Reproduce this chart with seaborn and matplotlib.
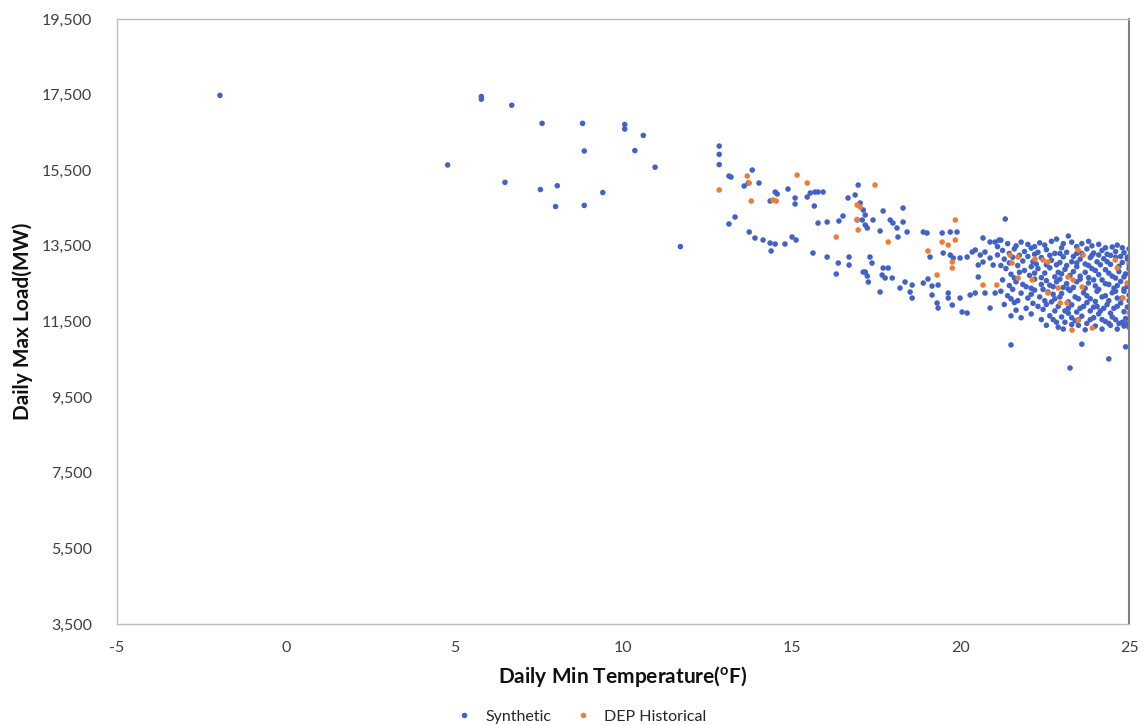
import numpy as np
import pandas as pd
import matplotlib
matplotlib.use("Agg")
import matplotlib.pyplot as plt
import seaborn as sns
from matplotlib.ticker import FuncFormatter

# ---------------- data ----------------
syn_temp = [
    -1.95, 4.8, 5.8, 5.8, 6.7, 6.5, 7.6, 7.55, 8.05, 8.0, 8.8, 8.85, 8.85, 9.4, 10.05, 10.05, 10.35, 10.6, 10.95, 11.7,
    12.85, 12.85, 12.85, 13.14, 13.2, 13.83, 13.59, 13.71, 14.03, 13.32, 13.14, 13.74, 13.91, 14.15, 14.36, 14.51,
    14.39, 14.8, 15.01, 15.13, 15.63, 16.05, 16.38, 16.7, 16.7, 16.32, 14.51, 14.57, 14.36, 14.89, 15.1, 15.1, 15.55,
    15.69, 15.78, 15.93, 15.46, 15.67, 15.78, 16.05, 16.4, 16.52, 16.97, 16.67, 16.88, 17.03, 17.12, 17.18, 17.09,
    16.94, 17.18, 17.12, 17.24,
    17.71, 18.30, 17.24, 17.41, 17.62, 17.92, 18.0, 18.12, 18.3, 18.42, 18.15, 18.9, 19.01, 19.46, 19.7, 19.9, 19.1,
    19.49, 19.7, 19.79, 19.99, 20.2, 20.35, 17.32, 17.38, 17.18, 17.27, 17.71, 17.86, 17.68, 17.77, 17.98, 17.62,
    18.21, 18.36, 18.57, 18.51, 18.57, 18.9, 19.04, 19.16, 19.34, 19.16, 19.31, 19.34, 19.64, 19.64, 19.76, 19.99,
    20.05, 20.2, 20.29, 20.44, 20.53, 20.73, 20.88, 21.03, 20.44, 20.59, 20.73, 20.88, 20.67, 20.97, 20.53, 20.67,
    20.88, 21.03, 21.15,
    21.2, 21.4, 21.8, 22.0, 22.35, 22.7, 22.85, 23.2, 23.3, 23.6, 23.9, 24.1, 24.5, 24.8, 25.0,
    21.25, 21.6, 21.9, 22.1, 22.3, 22.55, 22.8, 23.0, 23.15, 23.45, 23.75, 23.95, 24.2, 24.35, 24.6, 24.85, 24.95,
    21.3, 21.55, 21.85, 22.0, 22.25, 22.4, 22.7, 22.85, 23.05, 23.3, 23.55, 23.7, 23.85, 24.05, 24.25, 24.45, 24.6,
    24.8, 24.95, 21.7,
    21.35, 21.5, 21.9, 22.05, 22.3, 22.5, 22.65, 22.9, 23.1, 23.25, 23.45, 23.7, 23.9, 24.1, 24.3, 24.5, 24.7, 24.9,
    25.0, 22.1,
    21.25, 21.45, 21.65, 21.95, 22.2, 22.4, 22.55, 22.75, 22.95, 23.15, 23.35, 23.55, 23.8, 24.0, 24.2, 24.4, 24.55,
    24.75, 24.95, 23.05,
    21.2, 21.4, 21.8, 22.0, 22.2, 22.35, 22.6, 22.8, 23.0, 23.25, 23.4, 23.65, 23.85, 24.05, 24.3, 24.5, 24.65, 24.85,
    25.0,
    21.3, 21.6, 21.95, 22.15, 22.45, 22.7, 22.9, 23.1, 23.3, 23.55, 23.75, 23.95, 24.15, 24.35, 24.55, 24.75, 24.95,
    21.5, 21.8, 22.1, 22.4, 22.65, 22.85, 23.0, 23.2, 23.4, 23.6, 23.85, 24.1, 24.3, 24.5, 24.7, 24.9,
    22.9, 23.05, 23.3, 23.7, 24.0, 24.2, 24.45, 24.65, 24.85, 25.0, 23.5,
    21.5, 23.25, 23.6, 24.4, 24.9, 21.33,
]
syn_load = [
    17480, 15640, 17450, 17380, 17220, 15180, 16740, 14990, 15090, 14540, 16740, 16010, 14570, 14910, 16710, 16590,
    16020, 16420, 15580, 13480,
    16140, 15920, 15650, 15347, 15320, 15506, 15083, 15162, 15162, 14263, 14078, 13866, 13707, 13655, 13575, 13549,
    13364, 13549, 13734, 13655, 13311, 13205, 13046, 13205, 12993, 12755, 14924, 14871, 14686, 15003, 14766, 14607,
    14898, 14924, 14924, 14924, 14792, 14554, 14104, 14130, 14157, 14290, 15109, 14766, 14845, 14633, 14448, 14316,
    14184, 14184, 14051, 12808, 12702,
    14422, 14501, 13972, 14184, 13893, 14184, 14104, 13972, 14130, 13866, 13734, 13866, 13840, 13840, 13866, 13866,
    13205, 13311, 13258, 13179, 13179, 13205, 13337, 13205, 13046, 12808, 12544, 12914, 12914, 12729, 12650, 12650,
    12279, 12385, 12544, 12464, 12279, 12120, 12517, 12623, 12438, 12464, 12200, 11988, 11856, 12253, 12120, 11935,
    12120, 11750, 11724, 12200, 12253, 12676, 12253, 11856, 12253, 13390, 13258, 13337, 13179, 13073, 12993, 12993,
    13708, 13602, 13602, 13655,
    13650, 13560, 13600, 13540, 13580, 13620, 13680, 13760, 13600, 13560, 13500, 13540, 13470, 13450, 13420,
    13380, 13420, 13350, 13440, 13330, 13400, 13300, 13450, 13330, 13300, 13420, 13310, 13380, 13280, 13350, 13320,
    13200,
    13150, 13200, 13100, 13220, 13020, 13190, 13120, 13000, 13210, 13080, 13150, 13020, 13190, 13080, 13160, 13010,
    13200, 13060, 13150, 12980,
    12900, 12750, 12850, 12720, 12900, 12780, 12920, 12800, 12880, 12720, 12950, 12800, 12900, 12740, 12870, 12700,
    12820, 12760, 12900, 12950,
    12600, 12450, 12550, 12420, 12620, 12480, 12580, 12420, 12620, 12500, 12400, 12620, 12520, 12440, 12600, 12480,
    12380, 12560, 12430, 12400,
    12300, 12180, 12250, 12120, 12330, 12150, 12280, 12100, 12240, 12320, 12150, 12260, 12100, 12300, 12180, 12260,
    12120, 12300, 12200,
    11950, 12000, 11850, 11980, 11820, 12020, 11900, 11780, 11940, 11850, 12000, 11880, 11780, 11950, 11850, 11990,
    11880,
    11650, 11600, 11700, 11550, 11650, 11480, 11620, 11720, 11520, 11640, 11550, 11700, 11500, 11620, 11450, 11580,
    11350, 11300, 11420, 11280, 11380, 11300, 11400, 11300, 11380, 11350, 11400,
    10880, 10270, 10900, 10510, 10830, 14210,
]

# extra synthetic points filling the dense 21-25 °F cluster
syn_temp_dense = [
    21.1, 21.65, 22.2, 22.5, 23.05, 23.45, 23.8, 24.3, 24.65,
    21.1, 21.45, 21.75, 22.2, 22.65, 22.95, 23.35, 23.6, 23.9, 24.1, 24.45, 24.75,
    21.2, 21.45, 22.15, 22.55, 22.95, 23.15, 23.45, 23.8, 24.15, 24.35, 24.7, 25.0,
    21.6, 21.75, 22.2, 22.4, 22.8, 23.0, 23.35, 23.55, 23.8, 24.0, 24.4, 24.6, 24.85,
    21.55, 21.85, 22.1, 22.45, 22.65, 22.85, 23.2, 23.45, 23.7, 23.95, 24.1, 24.3, 24.65, 24.85,
    21.5, 21.7, 22.1, 22.5, 22.75, 22.95, 23.2, 23.5, 23.75, 24.0, 24.2, 24.4, 24.6, 24.8, 25.0,
    21.65, 22.3, 22.55, 22.8, 23.2, 23.45, 23.65, 23.85, 24.05, 24.25, 24.45, 24.65, 24.85,
    22.55, 22.75, 23.1, 23.3, 23.5, 23.75, 23.95, 24.2, 24.4, 24.6, 24.8, 24.95,
]
syn_load_dense = [
    13480, 13500, 13480, 13520, 13560, 13480, 13620, 13450, 13520,
    13260, 13300, 13250, 13280, 13250, 13300, 13220, 13300, 13250, 13260, 13250, 13220,
    12980, 13050, 13080, 13000, 13060, 12980, 13050, 12980, 13000, 13080, 12960, 13000,
    12650, 12800, 12780, 12660, 12680, 12760, 12820, 12700, 12660, 12850, 12780, 12650, 12680,
    12350, 12480, 12380, 12350, 12460, 12550, 12360, 12550, 12380, 12600, 12350, 12500, 12450, 12360,
    12100, 12050, 12220, 12050, 12220, 12150, 12020, 12100, 12180, 12030, 12150, 12050, 12300, 12120, 12050,
    11800, 11900, 11950, 11780, 11850, 11750, 11900, 11780, 11900, 11850, 11720, 11900, 11760,
    11400, 11550, 11480, 11600, 11550, 11450, 11600, 11550, 11450, 11550, 11480, 11450,
]

dep_temp = [
    12.85, 13.68, 13.74, 13.8, 14.45, 14.54, 15.16, 15.46, 16.32, 16.94, 17.03, 16.97, 16.94, 17.47, 17.86, 19.85,
    19.46, 19.64, 19.85, 19.04, 19.76, 19.76, 19.31, 20.67, 21.08, 21.47, 21.71, 21.53, 21.71, 22.13, 22.21, 22.45,
    22.6, 22.6, 22.9, 22.96, 23.16, 23.19, 23.34, 23.49, 23.64, 23.61, 23.49, 23.31, 23.91, 24.59, 24.65, 24.82,
    25.0, 25.0, 24.94,
]
dep_load = [
    14977, 15347, 15162, 14686, 14713, 14686, 15373, 15162, 13734, 14580, 14527, 13919, 14200, 15109, 13602, 14184,
    13602, 13522, 13655, 13364, 13073, 12914, 12729, 12464, 12464, 13258, 13205, 13046, 12650, 12597, 13152, 13126,
    13073, 12253, 12385, 11988, 11988, 12676, 12597, 13390, 13258, 12412, 11539, 11274, 11327, 13126, 12914, 12120,
    13046, 11724, 12517,
]

series_names = ["Synthetic", "DEP Historical"]
series_colors = ["#4262C8", "#ED7D31"]
x_ticks = [-5, 0, 5, 10, 15, 20, 25]
y_ticks = [3500, 5500, 7500, 9500, 11500, 13500, 15500, 17500, 19500]

df = pd.concat([
    pd.DataFrame({"temp": syn_temp + syn_temp_dense, "load": syn_load + syn_load_dense,
                  "series": series_names[0]}),
    pd.DataFrame({"temp": dep_temp, "load": dep_load, "series": series_names[1]}),
], ignore_index=True)

# ---------------- plot ----------------
sns.set_theme(style="white")
plt.rcParams["font.family"] = ["Lato", "DejaVu Sans"]
plt.rcParams["axes.unicode_minus"] = False

fig = plt.figure(figsize=(11.43, 7.25), dpi=100)
ax = fig.add_axes([0.1024, 0.1393, 0.8854, 0.8345])

sns.scatterplot(data=df, x="temp", y="load", hue="series", hue_order=series_names,
                palette=dict(zip(series_names, series_colors)), s=16, linewidth=0,
                edgecolor="none", ax=ax, legend=False)

ax.set_xlim(-5, 25)
ax.set_ylim(3500, 19500)
ax.set_xticks(x_ticks)
ax.set_yticks(y_ticks)
ax.yaxis.set_major_formatter(FuncFormatter(lambda v, p: f"{int(v):,}"))
ax.tick_params(axis="both", length=0, labelsize=11.5, colors="#404040")
ax.tick_params(axis="y", pad=18)
ax.tick_params(axis="x", pad=12)

for side in ["left", "top", "bottom"]:
    ax.spines[side].set_color("#bfbfbf")
    ax.spines[side].set_linewidth(1.0)
ax.spines["right"].set_color("#7f7f7f")
ax.spines["right"].set_linewidth(1.5)

ax.set_xlabel("Daily Min Temperature($\\mathregular{^{o}}$F)", fontsize=15, fontweight="bold",
              color="#111111", labelpad=7)
ax.set_ylabel("Daily Max Load(MW)", fontsize=15, fontweight="bold", color="#111111", labelpad=6)

handles = [plt.Line2D([], [], marker="o", linestyle="none", markersize=4,
                      markerfacecolor=c, markeredgecolor="none") for c in series_colors]
fig.legend(handles, series_names, loc="lower center", bbox_to_anchor=(0.505, -0.018), ncol=2,
           frameon=False, fontsize=11.5, handletextpad=0.3, columnspacing=1.0)

fig.savefig("out.png", dpi=100)
